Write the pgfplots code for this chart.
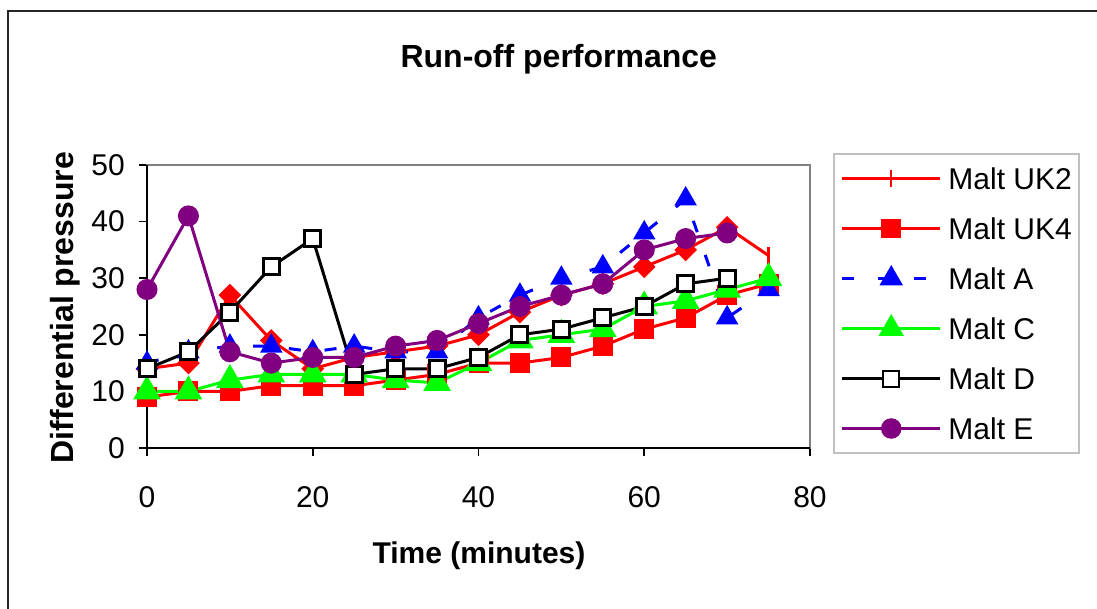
\documentclass[border=0pt]{standalone}
\usepackage{fontspec}
\setmainfont{Liberation Sans}
\usepackage{pgfplots}
\usepackage{pgfplotstable}
\pgfplotsset{compat=1.18}

\definecolor{mred}{RGB}{255,0,0}
\definecolor{mblue}{RGB}{0,0,255}
\definecolor{mgreen}{RGB}{0,255,0}
\definecolor{mpurple}{RGB}{128,0,128}
\definecolor{frame}{RGB}{128,128,128}
\definecolor{legframe}{RGB}{192,192,192}

% Differential pressure during run-off, one column per malt
\pgfplotstableread{
t   UK2  UK4  A   C     D    E
0   14   9    15  10    14   28
5   15   10   17  10    17   41
10  27   10   18  12    24   17
15  19   11   18  13    32   15
20  14   11   17  13    37   16
25  16   11   18  13    13   16
30  17   12   17  12    14   18
35  18   13   17  11.5  14   19
40  20   15   23  15    16   22
45  24   15   27  19    20   25
50  27   16   30  20    21   27
55  29   18   32  21    23   29
60  32   21   38  25    25   35
65  35   23   44  26    29   37
70  39   27   23  28    30   38
75  34   29   28  30    nan  nan
}\malts

\begin{document}
\begin{tikzpicture}
\useasboundingbox (0,0) rectangle (1097pt,608pt);
\begin{scope}
  \clip (0,0) rectangle (1097pt,608pt);
  \draw[line width=2pt, black!85] (8pt,-30pt) rectangle (1130pt,597pt);
\end{scope}

\node[anchor=base, font=\bfseries\fontsize{32}{38}\selectfont] at (558.8pt,540pt) {Run-off performance};
\node[anchor=base, font=\bfseries\fontsize{30}{36}\selectfont] at (479pt,45pt) {Time (minutes)};
\node[anchor=base, rotate=90, font=\bfseries\fontsize{32}{38}\selectfont] at (73pt,300.5pt) {Differential pressure};

\begin{axis}[
  at={(147pt,160pt)}, anchor=south west,
  scale only axis, width=663pt, height=283pt,
  xmin=0, xmax=80, ymin=0, ymax=50,
  xtick={0,20,...,80}, ytick={0,10,...,50},
  clip=false,
  axis line style={line width=1.5pt, frame},
  tick style={black, line width=1.5pt},
  major tick length=8pt,
  tick align=outside,
  xtick pos=bottom, ytick pos=left,
  /pgf/number format/assume math mode=true,
  ticklabel style={font=\fontsize{30}{36}\selectfont, inner sep=0pt},
  xticklabel style={anchor=base, yshift=-51pt},
  yticklabel style={anchor=east, xshift=-14pt},
  legend image code/.code={
    \draw[mark repeat=2, mark phase=2, #1]
      plot coordinates {(0pt,0pt) (49pt,0pt) (98pt,0pt)};
  },
  legend cell align=left,
  legend style={
    at={(1.03469,1.04240)}, anchor=north west,
    draw=legframe, line width=2pt,
    font=\fontsize{30}{36}\selectfont,
    inner xsep=7pt, inner ysep=11pt,
    row sep=23pt, column sep=7pt,
    nodes={inner sep=0pt, text height=24pt, text depth=3pt},
  },
]
% black left and bottom axis lines
\draw[black, line width=1.5pt] (rel axis cs:0,1) -- (rel axis cs:0,0) -- (rel axis cs:1,0);

\addplot[mred, line width=3pt, mark=square*, mark size=6.5pt,
  mark options={rotate=45}, mark indices={1,...,15}, forget plot]
  table[x=t, y=UK2] {\malts};
\addplot[mred, line width=3pt, only marks, mark=|, mark size=8.5pt,
  mark indices={16}, forget plot]
  table[x=t, y=UK2] {\malts};
\addplot[mred, line width=3pt, mark=square*, mark size=8.5pt, forget plot]
  table[x=t, y=UK4] {\malts};
\addplot[mblue, line width=3pt, dash pattern=on 12pt off 24pt,
  mark=triangle*, mark size=10pt, mark options={solid}, forget plot]
  table[x=t, y=A] {\malts};
\addplot[mgreen, line width=3pt, mark=triangle*, mark size=13pt, forget plot]
  table[x=t, y=C] {\malts};
\addplot[black, line width=3pt, mark=square*, mark size=8pt,
  mark options={fill=white, line width=3pt}, forget plot]
  table[x=t, y=D] {\malts};
\addplot[mpurple, line width=3pt, mark=*, mark size=9pt, forget plot]
  table[x=t, y=E] {\malts};

\addlegendimage{mred, line width=2.5pt, mark=|, mark size=8.5pt}
\addlegendentry{Malt UK2}
\addlegendimage{mred, line width=2.5pt, mark=square*, mark size=8.5pt}
\addlegendentry{Malt UK4}
\addlegendimage{mblue, line width=2.5pt, dash pattern=on 12pt off 24pt,
  mark=triangle*, mark size=11pt, mark options={solid}}
\addlegendentry{Malt A}
\addlegendimage{mgreen, line width=2.5pt, mark=triangle*, mark size=12pt}
\addlegendentry{Malt C}
\addlegendimage{black, line width=2.5pt, mark=square*, mark size=8pt,
  mark options={fill=white, line width=2pt}}
\addlegendentry{Malt D}
\addlegendimage{mpurple, line width=2.5pt, mark=*, mark size=9pt}
\addlegendentry{Malt E}
\end{axis}
\end{tikzpicture}
\end{document}
